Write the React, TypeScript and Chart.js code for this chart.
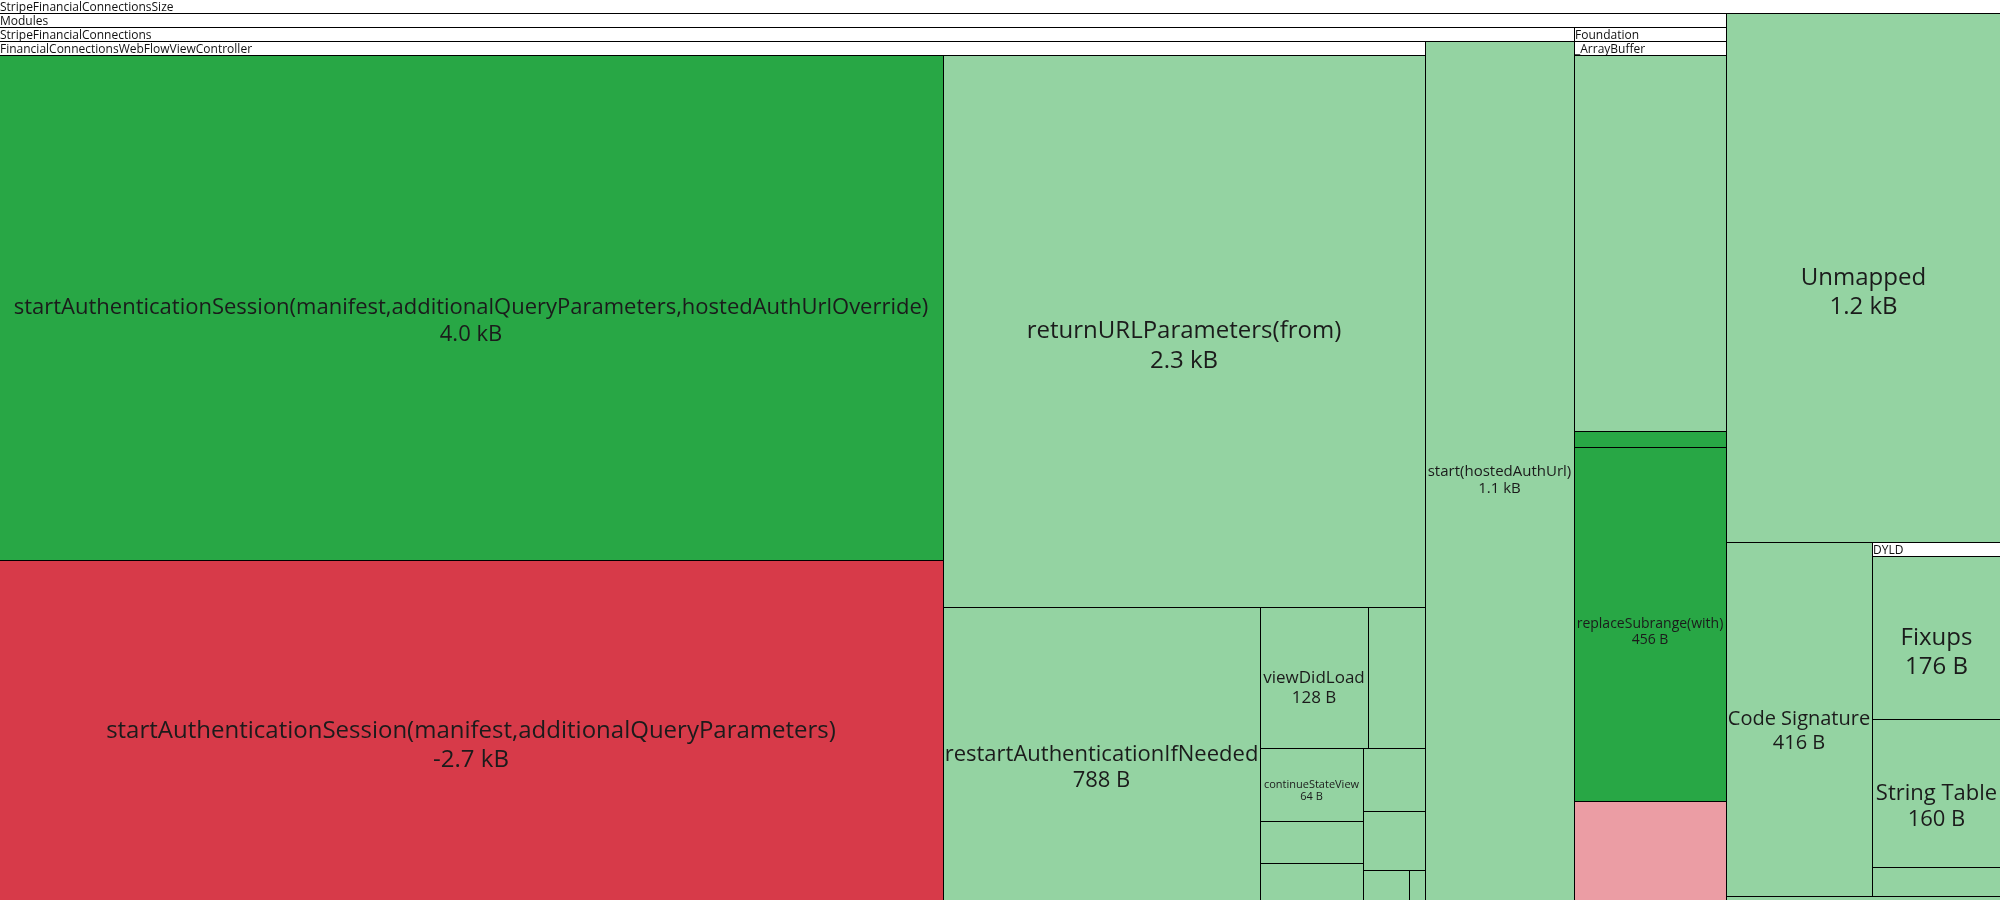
import React, { useEffect, useRef } from "react";
import { Chart, registerables } from "chart.js";

Chart.register(...registerables);

// ---- data (tree of size changes, in bytes) ----
const NODE_NAMES: string[] = [
  "StripeFinancialConnectionsSize", // 0
  "Modules", // 1
  "StripeFinancialConnections", // 2
  "FinancialConnectionsWebFlowViewController", // 3
  "startAuthenticationSession(manifest,additionalQueryParameters,hostedAuthUrlOverride)", // 4
  "startAuthenticationSession(manifest,additionalQueryParameters)", // 5
  "returnURLParameters(from)", // 6
  "restartAuthenticationIfNeeded", // 7
  "viewDidLoad", // 8
  "", // 9
  "continueStateView", // 10
  "", // 11
  "", // 12
  "", // 13
  "", // 14
  "", // 15
  "", // 16
  "start(hostedAuthUrl)", // 17
  "Foundation", // 18
  "_ArrayBuffer", // 19
  "", // 20
  "", // 21
  "replaceSubrange(with)", // 22
  "", // 23
  "Unmapped", // 24
  "Code Signature", // 25
  "DYLD", // 26
  "Fixups", // 27
  "String Table", // 28
  "", // 29
  "", // 30
];

const NODE_PARENTS: number[] = [
  -1, 0, 1, 2, 3, 3, 3, 3, 3, 3, 3, 3, 3, 3, 3, 3, 3, 2, 1, 18, 19, 19, 19, 19, 0, 0, 0, 26, 26, 26, 0,
];

// leaf size deltas in bytes (null = group, summed from children)
const NODE_BYTES: (number | null)[] = [
  null, null, null, null,
  4034, -2720, 2253, 788, 128, 68, 64, 37, 33, 33, 31, 12, 4,
  1067,
  null, null,
  484, 21, 456, -129,
  1172, 416,
  null, 176, 160, 32,
  10,
];

// change kind of each node
const NODE_KINDS: string[] = [
  "group", "group", "group", "group",
  "added", "removed", "grown", "grown", "grown", "grown", "grown", "grown", "grown", "grown", "grown", "grown", "grown",
  "grown",
  "group", "group",
  "grown", "added", "added", "shrunk",
  "grown", "grown",
  "group", "grown", "grown", "grown",
  "grown",
];

const KIND_COLORS: Record<string, string> = {
  group: "#ffffff",
  added: "#28a745",
  grown: "#94d3a2",
  removed: "#d73a49",
  shrunk: "#eb9da4",
};

const HEADER_H = 14;
const SQUARE_RATIO = 0.5 * (1 + Math.sqrt(5));
const FONT = '"Open Sans", "Noto Sans", sans-serif';

type Rect = { x: number; y: number; w: number; h: number };

function childrenOf(id: number): number[] {
  const out: number[] = [];
  NODE_PARENTS.forEach((p, i) => {
    if (p === id) out.push(i);
  });
  return out;
}

function nodeValue(id: number): number {
  const b = NODE_BYTES[id];
  if (b !== null && b !== undefined) return Math.abs(b);
  return childrenOf(id).reduce((s, c) => s + nodeValue(c), 0);
}

function formatBytes(v: number): string {
  if (Math.abs(v) >= 1000) return (v / 1000).toFixed(1) + " kB";
  return v + " B";
}

function worst(areas: number[], rowArea: number, fixed: number, ratio: number) {
  let mx = 0;
  let mn = Infinity;
  for (const a of areas) {
    if (a) {
      if (a < mn) mn = a;
      if (a > mx) mx = a;
    }
  }
  const sq = rowArea * rowArea;
  const f = fixed * fixed * ratio;
  return sq ? Math.max((f * mx) / sq, sq / (f * mn)) : Infinity;
}

function squarify(ids: number[], rect: Rect, out: Map<number, Rect>) {
  const vals = ids.map(nodeValue);
  const total = vals.reduce((a, b) => a + b, 0);
  const area = rect.w * rect.h;
  const areas = vals.map((v) => (total ? (v / total) * area : 0));
  const r = { ...rect };

  const position = (row: number[], rowArea: number, fixed: number, flush: boolean) => {
    const horiz = fixed === r.w;
    let last = horiz ? r.x : r.y;
    let other = fixed ? rowArea / fixed : 0;
    const avail = horiz ? r.h : r.w;
    if (flush || other > avail) other = avail;
    const end = horiz ? r.x + r.w : r.y + r.h;
    row.forEach((k, idx) => {
      const step = other ? areas[k] / other : 0;
      const remain = end - last;
      const mod = idx === row.length - 1 || remain < step ? remain : step;
      if (horiz) out.set(ids[k], { x: last, y: r.y, w: mod, h: other });
      else out.set(ids[k], { x: r.x, y: last, w: other, h: mod });
      last += mod;
    });
    if (horiz) {
      r.y += other;
      r.h -= other;
    } else {
      r.x += other;
      r.w -= other;
    }
  };

  let fixed = Math.min(r.w, r.h);
  let best = Infinity;
  let row: number[] = [];
  let rowArea = 0;
  for (let i = 0; i < ids.length; ) {
    row.push(i);
    rowArea += areas[i];
    const score = worst(row.map((j) => areas[j]), rowArea, fixed, SQUARE_RATIO);
    if (score <= best) {
      i++;
      best = score;
    } else {
      row.pop();
      rowArea -= areas[i];
      position(row, rowArea, fixed, false);
      fixed = Math.min(r.w, r.h);
      row = [];
      rowArea = 0;
      best = Infinity;
    }
  }
  if (row.length) position(row, rowArea, fixed, true);
}

function layoutTree(id: number, rect: Rect, out: Map<number, Rect>) {
  out.set(id, rect);
  const kids = childrenOf(id);
  if (!kids.length) return;
  const inner = { x: rect.x, y: rect.y + HEADER_H, w: rect.w, h: Math.max(rect.h - HEADER_H, 0) };
  const tmp = new Map<number, Rect>();
  squarify(kids, inner, tmp);
  kids.forEach((k) => layoutTree(k, tmp.get(k)!, out));
}

const treemapPlugin = {
  id: "treemapCells",
  afterDatasetsDraw(chart: any) {
    const ctx: CanvasRenderingContext2D = chart.ctx;
    const xs = chart.scales.x;
    const ys = chart.scales.y;
    const rects = new Map<number, Rect>();
    layoutTree(0, { x: -1, y: -1, w: 2002, h: 902 }, rects);

    const toPx = (r: Rect) => {
      const x0 = Math.round(xs.getPixelForValue(r.x));
      const x1 = Math.round(xs.getPixelForValue(r.x + r.w));
      const y0 = Math.round(ys.getPixelForValue(r.y));
      const y1 = Math.round(ys.getPixelForValue(r.y + r.h));
      return { x0, x1, y0, y1 };
    };

    ctx.save();
    const order: number[] = [];
    const walk = (id: number) => {
      order.push(id);
      childrenOf(id).forEach(walk);
    };
    walk(0);

    for (const id of order) {
      const r = rects.get(id)!;
      const p = toPx(r);
      const w = p.x1 - p.x0;
      const h = p.y1 - p.y0;
      ctx.fillStyle = KIND_COLORS[NODE_KINDS[id]];
      ctx.fillRect(p.x0, p.y0, w, h);
      ctx.strokeStyle = "#000000";
      ctx.lineWidth = 1;
      ctx.strokeRect(p.x0 + 0.5, p.y0 + 0.5, w, h);

      const isGroup = childrenOf(id).length > 0;
      if (isGroup) {
        ctx.save();
        ctx.beginPath();
        ctx.rect(p.x0 + 1, p.y0 + 1, w - 2, HEADER_H - 1);
        ctx.clip();
        ctx.fillStyle = "#111111";
        ctx.font = `12px ${FONT}`;
        ctx.textAlign = "left";
        ctx.textBaseline = "alphabetic";
        ctx.fillText(NODE_NAMES[id], p.x0 + 1, p.y0 + 12);
        ctx.restore();
      } else if (NODE_NAMES[id]) {
        const name = NODE_NAMES[id];
        const val = formatBytes(NODE_BYTES[id] as number);
        let fs = 0;
        for (let s = 24; s >= 8; s--) {
          ctx.font = `${s}px ${FONT}`;
          const tw = Math.max(ctx.measureText(name).width, ctx.measureText(val).width);
          const lh = 1.4 * s - 3;
          if (tw <= w - 3 && s + lh <= h - 4) {
            fs = s;
            break;
          }
        }
        if (fs) {
          const cx = (p.x0 + p.x1) / 2;
          const cy = (p.y0 + p.y1) / 2;
          const lh = 1.35 * fs - 3;
          ctx.font = `${fs}px ${FONT}`;
          ctx.fillStyle = "#1b1b1b";
          ctx.textAlign = "center";
          ctx.textBaseline = "alphabetic";
          ctx.fillText(name, cx, cy + 0.3 * fs);
          ctx.fillText(val, cx, cy + 0.3 * fs + lh);
        }
      }
    }
    ctx.restore();
  },
};

export default function App() {
  const ref = useRef<HTMLCanvasElement | null>(null);
  useEffect(() => {
    if (!ref.current) return;
    const chart = new Chart(ref.current, {
      type: "scatter",
      data: { datasets: [{ data: [], pointRadius: 0 }] },
      options: {
        animation: false,
        responsive: false,
        layout: { padding: 0 },
        scales: {
          x: { type: "linear", min: 0, max: 2000, display: false },
          y: { type: "linear", min: 0, max: 900, reverse: true, display: false },
        },
        plugins: { legend: { display: false }, tooltip: { enabled: false } },
      },
      plugins: [treemapPlugin],
    });
    return () => chart.destroy();
  }, []);
  return (
    <div style={{ position: "fixed", left: 0, top: 0, width: 2000, height: 900, background: "#fff" }}>
      <canvas ref={ref} width={2000} height={900} style={{ display: "block", width: 2000, height: 900 }} />
    </div>
  );
}
